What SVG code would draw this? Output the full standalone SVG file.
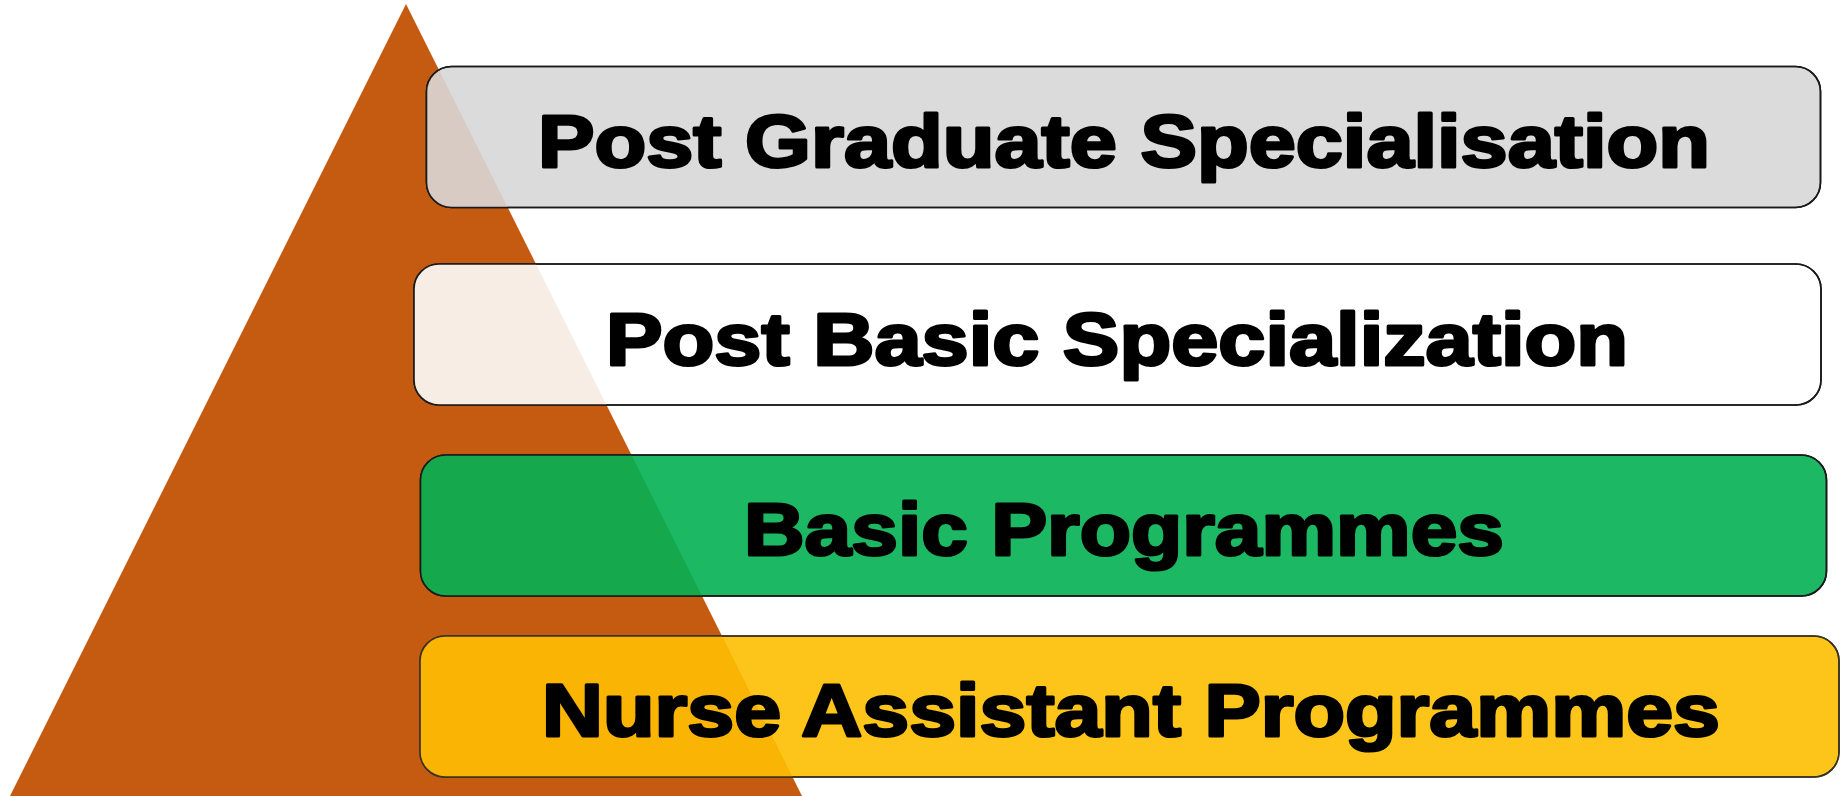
<svg xmlns="http://www.w3.org/2000/svg" width="1847" height="796" viewBox="0 0 1847 796">
<style>
.box{stroke:#1a1a1a;stroke-width:1.6}
.lbl{font-family:"Liberation Sans",Arial,sans-serif;font-weight:bold;font-size:75px;fill:#000;stroke:#000;stroke-width:3;stroke-linejoin:round;text-anchor:middle}
</style>
<defs>
<clipPath id="tri"><polygon points="406,4 10,796 802,796"/></clipPath>
</defs>
<rect width="1847" height="796" fill="#ffffff"/>
<g id="pyramid"><polygon points="406,4 10,796 802,796" fill="#C55A11"/></g>
<g id="connectors"></g>
<g id="n1">
<rect class="box" x="426.5" y="66.5" width="1394" height="141" rx="25" fill="#DBDBDB"/>
<rect x="426.5" y="66.5" width="1394" height="141" rx="25" fill="#D8CBC3" clip-path="url(#tri)"/>
<rect x="426.5" y="66.5" width="1394" height="141" rx="25" fill="none" class="box"/>
<text class="lbl" x="1124" y="167" textLength="1172" lengthAdjust="spacingAndGlyphs">Post Graduate Specialisation</text>
</g>
<g id="n2">
<rect class="box" x="414" y="264" width="1407" height="141" rx="25" fill="#FFFFFF"/>
<rect x="414" y="264" width="1407" height="141" rx="25" fill="#F7EDE5" clip-path="url(#tri)"/>
<rect x="414" y="264" width="1407" height="141" rx="25" fill="none" class="box"/>
<text class="lbl" x="1117" y="365" textLength="1022" lengthAdjust="spacingAndGlyphs">Post Basic Specialization</text>
</g>
<g id="n3">
<rect class="box" x="420.5" y="455" width="1406" height="141" rx="25" fill="#1DB863"/>
<rect x="420.5" y="455" width="1406" height="141" rx="25" fill="#15A84C" clip-path="url(#tri)"/>
<rect x="420.5" y="455" width="1406" height="141" rx="25" fill="none" class="box"/>
<text class="lbl" x="1124" y="555" textLength="760" lengthAdjust="spacingAndGlyphs">Basic Programmes</text>
</g>
<g id="n4">
<rect class="box" x="420" y="636" width="1419" height="141" rx="25" fill="#FDC51A" style="stroke:#3a3220"/>
<rect x="420" y="636" width="1419" height="141" rx="25" fill="#F9B404" clip-path="url(#tri)"/>
<rect x="420" y="636" width="1419" height="141" rx="25" fill="none" class="box" style="stroke:#3a3220"/>
<text class="lbl" x="1131" y="736" textLength="1178" lengthAdjust="spacingAndGlyphs">Nurse Assistant Programmes</text>
</g>
</svg>
